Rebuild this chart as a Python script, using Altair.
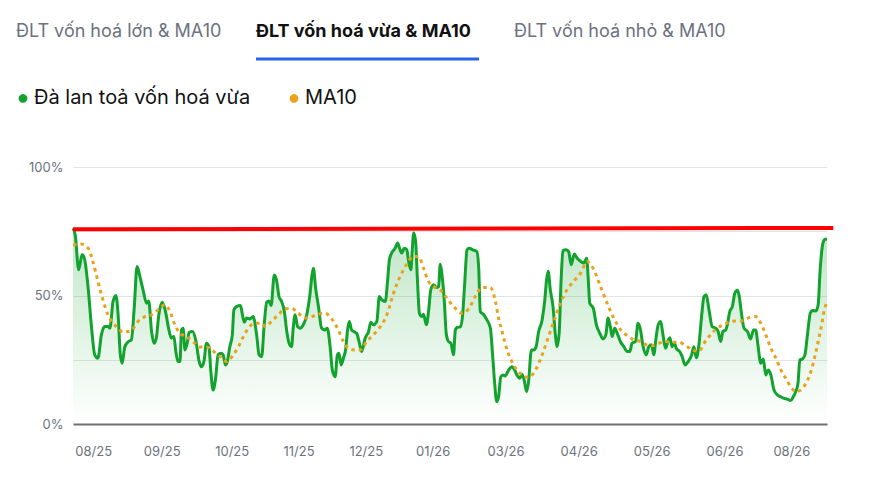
import altair as alt
import pandas as pd

# ---------------- data ----------------
series_names = ["Đà lan toả vốn hoá vừa", "MA10"]
series_colors = ["#12a32e", "#e9a21c"]

g_day = [0.0, 0.7, 1.8, 2.9, 3.7, 4.8, 5.8, 6.9, 7.9, 9.0, 10.1, 11.1, 11.7, 12.7, 13.6, 14.3, 15.0, 15.6,
         16.4, 17.5, 18.5, 19.4, 20.3, 21.2, 22.2, 23.3, 24.0, 24.9, 25.7, 26.4, 27.2, 28.3, 29.3, 30.5,
         31.2, 32.0, 32.6, 33.3, 33.9, 34.4, 34.9, 35.5, 36.2, 36.8, 37.9, 39.0, 40.0, 40.7, 41.5, 42.3,
         43.1, 43.7, 44.4, 45.2, 46.0, 46.9, 47.6, 48.3, 48.9, 49.7, 50.5, 51.0, 51.8, 53.1, 53.7, 54.3,
         55.0, 56.1, 57.1, 58.2, 59.0, 59.8, 60.6, 61.4, 62.1, 62.8, 63.8, 64.5, 65.3, 66.1, 67.0, 67.7,
         68.5, 69.3, 69.8, 70.4, 71.2, 72.0, 73.0, 74.1, 75.1, 75.7, 76.2, 76.9, 77.8, 78.8, 79.9, 80.6,
         81.5, 82.2, 83.1, 83.8, 84.3, 85.0, 85.7, 86.4, 87.1, 87.6, 88.3, 89.4, 89.9, 90.8, 91.5, 92.6,
         93.7, 94.4, 95.2, 96.3, 97.1, 97.9, 99.0, 99.7, 100.3, 101.0, 102.1, 102.9, 103.5, 104.2, 105.0,
         105.8, 106.4, 107.1, 107.5, 108.0, 108.6, 109.2, 109.8, 110.6, 111.1, 112.0, 112.7, 113.4, 114.3,
         115.1, 115.9, 116.4, 116.9, 117.7, 118.3, 119.0, 119.8, 120.6, 121.2, 121.7, 122.8, 123.5, 124.1,
         124.9, 125.6, 126.7, 128.0, 128.6, 129.1, 130.2, 131.2, 132.3, 133.0, 133.7, 134.3, 134.9, 135.6,
         136.3, 137.0, 138.1, 139.1, 140.0, 140.7, 141.6, 142.3, 143.0, 143.8, 144.4, 145.3, 146.0, 146.8,
         147.6, 148.7, 149.5, 150.1, 150.6, 151.3, 152.2, 152.9, 153.4, 154.1, 154.7, 155.3, 156.2, 157.1,
         157.9, 158.9, 159.8, 161.0, 161.9, 162.8, 163.3, 163.8, 164.9, 165.9, 167.0, 168.0, 168.9, 169.6,
         170.4, 170.9, 171.7, 172.5, 173.5, 174.6, 175.7, 176.5, 177.2, 178.3, 179.1, 179.9, 180.6, 181.7,
         182.5, 183.4, 184.1, 184.8, 185.5, 186.3, 187.0, 187.8, 188.7, 189.2, 189.9, 190.6, 191.2, 192.3,
         193.1, 194.0, 195.0, 196.1, 196.8, 197.6, 198.4, 199.3, 200.0, 200.7, 201.6, 202.6, 203.7, 204.5,
         205.3, 206.0, 206.9, 207.4, 208.2, 209.0, 209.8, 210.6, 211.1, 211.8, 212.7, 213.8, 214.8, 215.7,
         216.4, 217.1, 218.0, 218.8, 219.6, 220.4, 221.2, 222.2, 223.3, 224.3, 225.4, 226.4, 227.5, 228.3,
         229.1, 229.8, 230.4, 231.2, 232.0, 232.8, 233.7, 234.4, 235.5, 236.2, 236.8, 237.6, 238.3, 239.0]
g_val = [76.2, 73.6, 60.0, 66.0, 64.0, 52.9, 38.6, 26.9, 25.6, 34.7, 37.9, 37.9, 37.3, 47.7, 50.0, 42.5, 26.9, 23.6,
         30.0, 32.0, 32.7, 45.0, 61.3, 57.4, 52.2, 47.0, 47.9, 36.0, 31.4, 33.4, 42.5, 47.4, 43.8, 36.0,
         33.4, 34.0, 28.2, 24.3, 24.3, 36.6, 37.3, 28.8, 31.4, 35.7, 36.0, 32.0, 24.3, 22.3, 24.3, 31.4,
         30.0, 20.4, 13.2, 17.8, 26.9, 27.5, 26.9, 23.0, 24.3, 30.0, 34.7, 44.4, 45.7, 46.1, 42.5, 39.6,
         41.2, 40.9, 41.8, 34.7, 26.9, 26.2, 38.6, 47.4, 47.9, 46.1, 58.0, 56.1, 49.6, 47.7, 43.8, 36.6,
         31.4, 30.1, 37.3, 42.5, 37.9, 37.3, 38.6, 42.5, 50.3, 57.4, 60.6, 52.9, 45.7, 37.3, 36.6, 37.3,
         30.1, 21.0, 18.4, 26.9, 27.5, 23.0, 25.6, 28.8, 37.3, 39.9, 36.6, 35.7, 35.3, 31.4, 28.2, 33.4,
         36.0, 39.6, 38.6, 39.9, 49.6, 48.3, 47.7, 55.5, 63.9, 66.5, 68.4, 70.4, 68.4, 66.5, 68.4,
         67.8, 63.2, 60.0, 67.1, 74.3, 71.0, 55.5, 43.1, 41.8, 42.7, 38.6, 43.8, 52.2, 54.2,
         53.1, 53.5, 62.2, 58.7, 47.7, 35.3, 32.1, 31.4, 26.9, 36.6, 37.5, 37.9, 42.5, 53.5,
         67.8, 68.4, 67.8, 67.1, 60.6, 43.8, 42.5, 40.5, 37.3, 26.9, 15.2, 8.7, 10.6, 18.4,
         19.1, 18.7, 21.0, 22.3, 21.0, 19.1, 17.8, 19.4, 17.1, 12.6, 16.5, 28.8, 28.8, 30.1,
         36.0, 40.5, 47.7, 56.0, 59.4, 52.2, 45.1, 34.7, 30.1, 35.3, 55.5, 67.4, 67.8, 67.1,
         62.0, 66.1, 64.5, 63.2, 62.6, 64.5, 56.8, 47.0, 45.1, 38.6, 35.3, 33.1, 34.7, 41.2,
         37.3, 34.0, 37.3, 35.3, 32.1, 30.1, 28.2, 28.2, 31.4, 32.1, 39.2, 36.6, 30.8, 26.9,
         30.1, 30.8, 26.9, 33.4, 38.6, 39.9, 34.7, 29.5, 32.7, 33.6, 30.1, 31.4, 29.5, 28.2,
         26.2, 23.0, 24.3, 26.9, 30.1, 25.8, 30.8, 42.5, 49.6, 50.3, 44.4, 37.9, 37.3, 36.0,
         32.1, 36.0, 36.6, 38.6, 43.8, 45.7, 50.9, 52.0, 50.3, 43.8, 37.3, 36.0, 33.1, 36.6,
         36.6, 30.8, 23.6, 25.3, 19.1, 21.0, 19.1, 13.2, 11.3, 10.6, 10.0, 9.7, 9.1, 10.6,
         12.6, 15.8, 24.9, 25.3, 26.9, 34.7, 43.1, 44.2, 44.0, 46.4, 59.4, 69.7, 71.9, 71.9]

m_day = [0.0, 2.6, 4.8, 6.3, 7.9, 9.5, 11.1, 12.7, 14.3, 15.9, 17.5, 19.0, 20.6, 22.8, 24.9, 27.0, 29.1,
         30.7, 32.3, 33.9, 36.0, 38.1, 40.2, 42.3, 44.4, 46.6, 48.7, 50.8, 52.4, 54.0, 55.6, 57.7, 59.8,
         60.9, 63.0, 65.1, 67.2, 69.3, 71.4, 73.6, 75.7, 77.8, 79.9, 82.0, 84.1, 85.7, 87.3, 89.4, 91.0,
         93.1, 95.2, 97.4, 99.5, 101.6, 103.7, 105.8, 107.9, 109.5, 111.1, 112.7, 114.3, 116.4, 118.5,
         120.1, 121.2, 123.3, 125.4, 127.5, 129.6, 132.3, 133.9, 134.9, 136.0, 137.6, 139.1, 140.7, 142.3,
         144.4, 146.6, 148.7, 150.3, 152.4, 154.5, 156.6, 158.7, 160.9, 163.0, 165.1, 167.2, 169.3, 171.4,
         173.6, 175.7, 177.8, 179.9, 181.8, 183.6, 185.7, 187.8, 189.9, 192.1, 194.2, 196.3, 198.4, 200.0,
         202.1, 204.2, 206.3, 208.5, 210.6, 211.7, 213.8, 216.4, 218.0, 219.6, 221.2, 222.8, 224.4, 225.9,
         227.5, 229.1, 230.7, 232.3, 233.9, 235.5, 237.1, 238.3, 239.0]
m_val = [69.7, 70.0, 68.4, 63.2, 55.5, 48.3, 42.5, 39.2, 37.3, 35.7, 36.0, 37.0, 39.9, 41.8, 42.5, 44.4, 46.4,
         43.8, 38.6, 35.3, 34.0, 32.0, 30.0, 30.0, 28.4, 26.2, 24.3, 26.9, 30.0, 34.0, 37.3, 39.2, 39.2,
         37.9, 40.1, 42.5, 44.8, 45.0, 43.1, 41.2, 41.8, 42.7, 43.1, 40.9, 36.6, 32.1, 29.5, 28.8, 28.8,
         32.1, 34.7, 37.9, 42.5, 50.9, 57.4, 62.2, 65.2, 65.2, 60.6, 55.5, 53.5, 52.2, 49.0,
         46.4, 45.0, 43.1, 44.8, 49.6, 53.1, 53.1, 47.7, 41.2, 36.0, 28.8, 24.3, 21.0, 19.1,
         18.1, 21.0, 26.9, 32.5, 39.9, 47.0, 52.2, 55.5, 58.7, 63.2, 60.0, 53.5, 47.0, 41.2,
         36.6, 34.4, 32.7, 32.1, 30.8, 30.5, 31.4, 32.1, 31.8, 31.8, 30.5, 28.8, 28.2, 31.4,
         34.7, 37.3, 38.6, 39.9, 40.1, 40.1, 41.2, 41.8, 39.2, 34.7, 29.5, 25.6, 21.0, 17.8,
         14.5, 12.6, 13.2, 15.8, 20.4, 28.2, 37.3, 45.1, 47.4]

ref_day = [0.0, 241.0]
ref_val = [75.8, 76.3]

tick_days = [6.4, 28.1, 50.3, 71.5, 92.8, 114.0, 137.1, 160.3, 183.4, 206.5, 227.7]
tick_labels = ["08/25", "09/25", "10/25", "11/25", "12/25", "01/26", "03/26", "04/26", "05/26", "06/26", "08/26"]

y_ticks = [0, 25, 50, 75, 100]

tab_labels = ["ĐLT vốn hoá lớn & MA10", "ĐLT vốn hoá vừa & MA10", "ĐLT vốn hoá nhỏ & MA10"]

# ---------------- tables ----------------
df_g = pd.DataFrame({"day": g_day, "value": g_val, "series": series_names[0]})
df_m = pd.DataFrame({"day": m_day, "value": m_val, "series": series_names[1]})
df_ref = pd.DataFrame({"day": ref_day, "value": ref_val})

FONT = "Inter"
W, H = 754, 257

label_expr = "''"
for d, lab in reversed(list(zip(tick_days, tick_labels))):
    label_expr = f"datum.value == {d} ? '{lab}' : ({label_expr})"

x_scale = alt.Scale(domain=[0, 239], nice=False, zero=False)
y_scale = alt.Scale(domain=[0, 100], nice=False)

x_enc = alt.X("day:Q", scale=x_scale,
              axis=alt.Axis(values=tick_days, labelExpr=label_expr, title=None, grid=False,
                            ticks=False, tickSize=0, labelPadding=21, labelFontSize=13,
                            labelColor="#6b7280", labelFont=FONT, domainColor="#707070",
                            domainWidth=2, labelFlush=False))
y_enc = alt.Y("value:Q", scale=y_scale,
              axis=alt.Axis(values=y_ticks, labelExpr="datum.value % 50 == 0 ? datum.value + '%' : ''",
                            title=None, ticks=False, domain=False, labelPadding=10,
                            labelFontSize=13, labelColor="#6b7280", labelFont=FONT,
                            gridColor="#e3e4e8", gridWidth=1))

color_enc = alt.Color("series:N",
                      scale=alt.Scale(domain=series_names, range=series_colors),
                      legend=alt.Legend(title=None, orient="none", direction="horizontal",
                                        legendX=-60, legendY=-79, symbolType="circle",
                                        symbolSize=18, symbolStrokeWidth=4.5, symbolDash=[1, 0],
                                        labelFontSize=20, labelFont=FONT, labelColor="#111111",
                                        labelLimit=0, labelOffset=1, columnPadding=31, padding=0))

area = alt.Chart(df_g).mark_area(
    interpolate="monotone",
    color=alt.Gradient(gradient="linear",
                       stops=[alt.GradientStop(color="rgba(18,163,46,0.0)", offset=0),
                              alt.GradientStop(color="rgba(18,163,46,0.27)", offset=1)],
                       x1=1, x2=1, y1=1, y2=0),
).encode(x=x_enc, y=y_enc)

g_line = alt.Chart(df_g).mark_line(interpolate="monotone", strokeWidth=3).encode(
    x="day:Q", y="value:Q", color=color_enc)

m_line = alt.Chart(df_m).mark_line(interpolate="monotone", strokeWidth=3,
                                   strokeDash=[3.5, 4]).encode(
    x="day:Q", y="value:Q", color=color_enc)

ref_line = alt.Chart(df_ref).mark_line(color="#ff0000", strokeWidth=4, clip=False).encode(
    x="day:Q", y="value:Q")

one = pd.DataFrame({"k": [0]})
tab1 = alt.Chart(one).mark_text(align="left", baseline="middle", font=FONT, fontSize=18,
                                color="#6b7280").encode(
    x=alt.value(-57), y=alt.value(-135), text=alt.value(tab_labels[0]))
tab2 = alt.Chart(one).mark_text(align="left", baseline="middle", font=FONT, fontSize=18,
                                fontWeight="bold", color="#111111").encode(
    x=alt.value(183), y=alt.value(-135), text=alt.value(tab_labels[1]))
tab3 = alt.Chart(one).mark_text(align="left", baseline="middle", font=FONT, fontSize=18,
                                color="#6b7280").encode(
    x=alt.value(441), y=alt.value(-135), text=alt.value(tab_labels[2]))
underline = alt.Chart(one).mark_rule(color="#2563eb", strokeWidth=3).encode(
    x=alt.value(183), x2=alt.value(406), y=alt.value(-108))

chart = alt.layer(area, g_line, m_line, ref_line, tab1, tab2, tab3, underline).properties(
    width=W, height=H,
    autosize=alt.AutoSizeParams(type="none"),
    padding={"left": 65, "top": 159, "right": 30, "bottom": 40},
).configure(font=FONT).configure_view(stroke=None)

chart.save("out.html", embed_options={"renderer": "svg", "actions": False})
